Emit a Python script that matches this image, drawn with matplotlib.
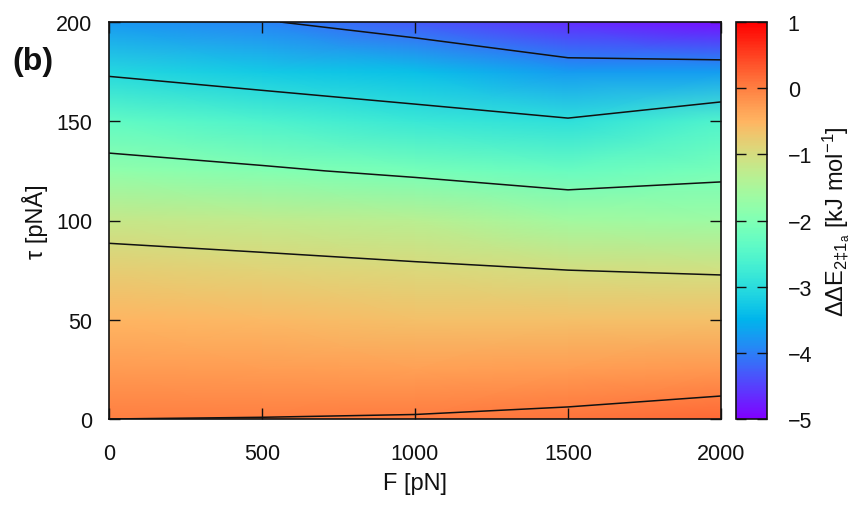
import numpy as np
import matplotlib
matplotlib.use("Agg")
import matplotlib.pyplot as plt

plt.rcParams['font.family'] = ['Liberation Sans', 'DejaVu Sans']
plt.rcParams['mathtext.fontset'] = 'custom'
plt.rcParams['mathtext.rm'] = 'Liberation Sans'
plt.rcParams['mathtext.it'] = 'Liberation Sans'
plt.rcParams['mathtext.bf'] = 'Liberation Sans:bold'

# Grid of the surface: force F (columns) and torque tau (rows)
F_pN = [0, 500, 1000, 1500, 2000]
tau_pNA = [0, 25, 50, 75, 100, 125, 150, 175, 200]

# Energy difference (kJ/mol), one row per tau value, columns follow F_pN
dE_tau000 = [0.00, 0.01, 0.03, 0.09, 0.19]
dE_tau025 = [-0.26, -0.28, -0.30, -0.28, -0.22]
dE_tau050 = [-0.52, -0.57, -0.62, -0.64, -0.63]
dE_tau075 = [-0.80, -0.86, -0.93, -1.00, -1.04]
dE_tau100 = [-1.17, -1.25, -1.34, -1.58, -1.65]
dE_tau125 = [-1.81, -1.93, -2.10, -2.26, -2.10]
dE_tau150 = [-2.34, -2.57, -2.81, -2.95, -2.54]
dE_tau175 = [-3.07, -3.26, -3.36, -3.74, -3.72]
dE_tau200 = [-3.77, -3.96, -4.30, -4.67, -4.90]

contour_levels = [-4, -3, -2, -1, 0]
cbar_ticks = [-5, -4, -3, -2, -1, 0, 1]
x_ticks = [0, 500, 1000, 1500, 2000]
y_ticks = [0, 50, 100, 150, 200]

Z = np.array([dE_tau000, dE_tau025, dE_tau050, dE_tau075, dE_tau100,
              dE_tau125, dE_tau150, dE_tau175, dE_tau200])
FF, TT = np.meshgrid(F_pN, tau_pNA)

W, H = 861, 506
fig = plt.figure(figsize=(W / 100, H / 100), dpi=100)
ax = fig.add_axes([109 / W, 1 - 420 / H, (721 - 109) / W, (420 - 23) / H])
cax = fig.add_axes([736 / W, 1 - 420 / H, 31 / W, (420 - 23) / H])

mesh = ax.pcolormesh(FF, TT, Z, shading='gouraud', cmap='rainbow',
                     vmin=-5, vmax=1, rasterized=True)
ax.contour(FF, TT, Z, levels=contour_levels, colors='#111111',
           linewidths=1.1, linestyles='solid')

ax.set_xlim(0, 2000)
ax.set_ylim(0, 200)
ax.set_xticks(x_ticks)
ax.set_yticks(y_ticks)
ax.tick_params(axis='both', direction='in', length=8, width=1.0,
               top=True, right=True, labelsize=15.5, colors='#111111')
ax.tick_params(axis='x', pad=17)
ax.tick_params(axis='y', pad=12)
for s in ax.spines.values():
    s.set_linewidth(1.2)
    s.set_color('#111111')

ax.set_xlabel('F [pN]', fontsize=17, color='#111111', labelpad=6)
ax.set_ylabel('τ [pNÅ]', fontsize=17, color='#111111', labelpad=6)

cb = fig.colorbar(mesh, cax=cax, ticks=cbar_ticks)
cb.outline.set_linewidth(1.2)
cb.outline.set_edgecolor('#111111')
cax.tick_params(direction='in', length=7, width=1.0, left=True, right=True,
                labelsize=15.5, pad=15, colors='#111111')
cb.set_label('ΔΔE$_{2‡1_a}$ [kJ mol$^{-1}$]', fontsize=17, color='#111111',
             labelpad=6)

fig.text(12 / W, 1 - 62 / H, '(b)', fontsize=23, fontweight='bold',
         color='#111111', ha='left', va='center')

fig.savefig('out.png', dpi=100)
